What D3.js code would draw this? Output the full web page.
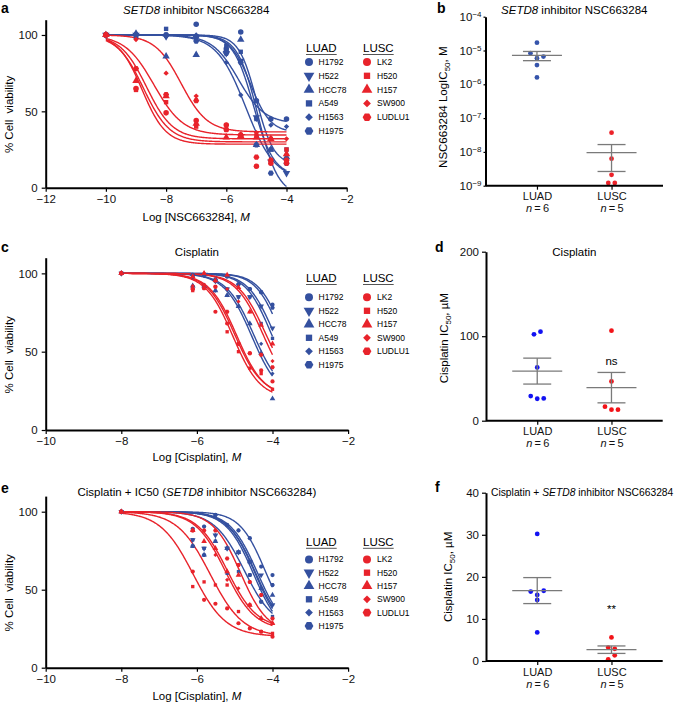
<!DOCTYPE html>
<html>
<head>
<meta charset="utf-8">
<script src="https://cdn.jsdelivr.net/npm/d3@7"></script>
<style>
  body { margin: 0; background: #fff; }
  svg { display: block; font-family: "Liberation Sans", Arial, Helvetica, sans-serif; }
</style>
</head>
<body>
<svg id="chart" width="685" height="702"></svg>
<script>
// cell lines, in legend order
var cellLines = ["H1792", "H522", "HCC78", "A549", "H1563", "H1975", "LK2", "H520", "H157", "SW900", "LUDLU1"];
var subtypes = ["LUAD", "LUAD", "LUAD", "LUAD", "LUAD", "LUAD", "LUSC", "LUSC", "LUSC", "LUSC", "LUSC"];
var markers = ["circle", "triDown", "triUp", "square", "diamond", "hexagon", "circle", "square", "triUp", "diamond", "hexagon"];

// a: NSC663284 alone, log M doses and % viability per cell line
var dosesNSC = [-10, -9, -8, -7, -6, -5.52, -5, -4.52, -4];
var viabilityNSC = [
  [100, 100, 100, 107, 91, 102, 57, 45, 45],
  [100, 100, 99, 98, 88, 83, 46, 17, 9.5],
  [100, 101, 86, 87, 90, 97, 28, 25, 20],
  [100, 99, 104, 99, 93, 89, 45, 25, 25],
  [100, 98, 99, 100, 82, 60.7, 45, 41, 40],
  [100, 100, 100, 96, 88, 82, 28, 9.5, 16],
  [100, 65, 49, 44, 41, 34, 14, 16, 16],
  [100, 64, 56, 40, 38, 34.5, 34, 32, 25],
  [100, 70, 60, 42, 33, 34, 33, 32, 22],
  [100, 97, 75, 60, 41, 35, 36, 32, 32],
  [100, 78, 61, 57, 38, 34.5, 20, 18, 18]
];
var bottomNSC = [42, -5, 8, 15, 36, 5, 28.5, 30, 32, 36.5, 34.5];
var logIC50NSC = [-5.6, -4.95, -5.1, -5.0, -5.2, -5.35, -8.8, -8.75, -8.65, -7.5, -8.4];
var hillNSC = [1.0, 1.3, 1.3, 1.5, 1.3, 0.9, 1.1, 1.0, 1.0, 1.0, 0.9];

// c: cisplatin alone
var dosesCis = [-8, -6.11, -5.81, -5.51, -5.2, -4.9, -4.6, -4.3, -4];
var viabilityCis = [
  [100, 99, 99, 96, 98, 93, 90, 88, 80],
  [100, 98, 99, 95, 90, 85, 85, 79, 65],
  [100, 92, 92, 89, 86, 79, 68, 49, 20],
  [100, 91, 92, 95, 90, 85, 85, 68, 58.5],
  [100, 92, 91, 89, 86, 79, 68, 55, 36],
  [100, 99, 99, 96, 98, 93, 90, 88, 78],
  [100, 90, 92.5, 75.5, 68, 55, 49, 38, 31],
  [100, 89, 90.5, 91.5, 62.7, 50, 39.5, 36, 26],
  [100, 98, 100, 95.6, 99, 91, 75.5, 67, 55],
  [100, 92, 100, 95, 90, 82, 75.5, 48, 44],
  [100, 90, 90.5, 91.5, 75.5, 55, 49, 48, 40]
];
var bottomCis = [35, 28, 20, 25, 22, 32, 20, 22, 25, 22, 21];
var logIC50Cis = [-3.8, -4.0, -4.55, -4.05, -4.5, -3.85, -5.05, -5.0, -4.2, -4.25, -4.95];
var hillCis = [1.4, 1.3, 1.2, 1.3, 1.2, 1.4, 1.2, 1.2, 1.2, 1.2, 1.2];

// e: cisplatin + IC50 of NSC663284
var dosesCombo = [-8, -6.11, -5.81, -5.51, -5.2, -4.9, -4.6, -4.3, -4];
var viabilityCombo = [
  [100, 89, 90.5, 97.9, 91.5, 88, 83, 64.8, 59.4],
  [100, 82, 76.5, 85, 76.5, 74, 68, 59.4, 40.2],
  [100, 78, 72.3, 81, 76.5, 74, 68, 50.9, 46.6],
  [100, 82, 76.5, 81, 60.5, 61.6, 59.4, 42.3, 32.8],
  [100, 89, 90.5, 85, 91.5, 88, 83, 50.9, 40.2],
  [100, 78, 72.3, 97.9, 76.5, 74, 59.4, 42.3, 53],
  [100, 61.6, 43.5, 41, 38, 28.5, 25.2, 23.1, 19.9],
  [100, 52, 55, 53, 53, 36, 40.2, 23.1, 22],
  [100, 88, 81, 76.5, 61.6, 59.4, 40.2, 31.6, 28.5],
  [100, 88, 88, 72.3, 56.3, 50.9, 40.2, 31.6, 28.5],
  [100, 88, 88, 88, 70, 65.8, 55, 46.6, 31.6]
];
var bottomCombo = [25, 20, 22, 25, 20, 22, 20, 20, 24, 25, 22];
var logIC50Combo = [-4.2, -4.45, -4.45, -4.75, -4.5, -4.4, -6.1, -5.65, -5.25, -5.2, -4.85];
var hillCombo = [1.3, 1.2, 1.2, 1.1, 1.2, 1.2, 1.0, 1.0, 1.1, 1.1, 1.2];

// b, d, f: IC50 per cell line
var groups = ["LUAD", "LUSC"];
var ic50NSC_LUAD = [1.7e-5, 8.3e-6, 5.9e-6, 6.6e-6, 3.7e-6, 1.6e-6];
var ic50NSC_LUSC = [3.7e-8, 6.3e-9, 2.1e-9, 1.2e-9, 1.2e-9];
var ic50Cis_LUAD = [102.2, 105.3, 63.1, 29.2, 26.0, 26.4];
var ic50Cis_LUSC = [106.5, 46.5, 16.6, 13.0, 13.0];
var ic50Combo_LUAD = [30.2, 16.5, 15.7, 16.7, 14.5, 6.8];
var ic50Combo_LUSC = [5.6, 3.2, 2.9, 0.4, 1.35];
var sigLabels = ["ns", "**"];
var sigValues = [66, 11.4];

var BLUE = "#34509f", RED = "#e8232b";
var svg = d3.select("#chart");

var hexagon = {
  draw: function(ctx, size) {
    var r = Math.sqrt(size / (1.5 * Math.sqrt(3)));
    for (var i = 0; i < 6; i++) {
      var a = Math.PI / 3 * i;
      if (i === 0) ctx.moveTo(r * Math.cos(a), r * Math.sin(a));
      else ctx.lineTo(r * Math.cos(a), r * Math.sin(a));
    }
    ctx.closePath();
  }
};
var symbolTypes = {
  circle: d3.symbolCircle, triUp: d3.symbolTriangle, triDown: d3.symbolTriangle,
  square: d3.symbolSquare, diamond: d3.symbolSquare, hexagon: hexagon
};
function markerPath(kind, size) {
  var s = kind === "diamond" ? size * 0.6 : kind === "square" ? size * 0.8 : size;
  return d3.symbol().type(symbolTypes[kind]).size(s)();
}
function markerRotate(kind) {
  return kind === "triDown" ? 180 : kind === "diamond" ? 45 : 0;
}

function richText(sel, parts) {
  parts.forEach(function(p) {
    sel.append("tspan").attr("font-style", p.i ? "italic" : null).text(p.t);
  });
  return sel;
}

function styleAxis(a, size) {
  a.attr("font-family", null).attr("font-size", size || 11.5);
  a.select(".domain").attr("stroke-width", 2);
  a.selectAll(".tick line").attr("stroke-width", 1.2);
  a.selectAll(".tick text").attr("fill", "#111");
}

function panelLabel(t, x, y) {
  svg.append("text").attr("x", x).attr("y", y).attr("font-size", 14)
    .attr("font-weight", "bold").text(t);
}

function drawDoseResponse(o) {
  var g = svg.append("g").attr("transform", "translate(" + o.left + "," + o.top + ")");
  var x = d3.scaleLinear().domain(o.xDomain).range([0, o.width]);
  var y = d3.scaleLinear().domain([0, 110]).range([o.height, 0]);
  var line = d3.line().x(function(d) { return x(d[0]); }).y(function(d) { return y(d[1]); });
  var xs = d3.range(o.fitFrom, o.fitTo + 1e-9, 0.02);

  cellLines.forEach(function(name, i) {
    var pts = xs.map(function(lx) {
      return [lx, o.bottom[i] + (100 - o.bottom[i]) / (1 + Math.pow(10, (lx - o.logIC50[i]) * o.hill[i]))];
    });
    g.append("path").attr("d", line(pts)).attr("fill", "none")
      .attr("stroke", subtypes[i] === "LUAD" ? BLUE : RED).attr("stroke-width", 1.4);
  });

  cellLines.forEach(function(name, i) {
    var col = subtypes[i] === "LUAD" ? BLUE : RED;
    g.selectAll(null).data(o.viability[i]).enter().append("path")
      .attr("d", markerPath(markers[i], o.markerSize))
      .attr("transform", function(v, j) {
        return "translate(" + x(o.doses[j]) + "," + y(v) + ") rotate(" + markerRotate(markers[i]) + ")";
      })
      .attr("fill", col);
  });

  var ax = g.append("g").attr("transform", "translate(0," + o.height + ")")
    .call(d3.axisBottom(x).tickValues(o.xTicks).tickSize(4).tickSizeOuter(0).tickPadding(3));
  var ay = g.append("g")
    .call(d3.axisLeft(y).tickValues([0, 50, 100]).tickSize(4).tickSizeOuter(0).tickPadding(4));
  styleAxis(ax); styleAxis(ay);

  richText(g.append("text").attr("x", o.width / 2).attr("y", o.titleY)
    .attr("text-anchor", "middle").attr("font-size", 11.5), o.title);
  richText(g.append("text").attr("x", o.width / 2).attr("y", o.height + o.xLabelDy)
    .attr("text-anchor", "middle").attr("font-size", 11.5), o.xLabel);
  g.append("text").attr("transform", "translate(-33," + y(48) + ") rotate(-90)")
    .attr("text-anchor", "middle").attr("font-size", 11.5).attr("xml:space", "preserve")
    .text("% Cell  viability");

  // legend
  var lg = svg.append("g");
  [["LUAD", 306, 309, 318.5], ["LUSC", 363, 367, 377]].forEach(function(h) {
    var t = lg.append("text").attr("x", h[1]).attr("y", o.legendTop).attr("font-size", 11.5).text(h[0]);
    var w = t.node().getComputedTextLength();
    lg.append("line").attr("x1", h[1]).attr("x2", h[1] + w)
      .attr("y1", o.legendTop + 2.5).attr("y2", o.legendTop + 2.5)
      .attr("stroke", "#555").attr("stroke-width", 1);
    var idx = cellLines.map(function(d, i) { return i; }).filter(function(i) { return subtypes[i] === h[0]; });
    idx.forEach(function(i, k) {
      var cy = o.legendTop + o.legendFirst + k * o.legendStep;
      lg.append("path").attr("d", markerPath(markers[i], 50))
        .attr("transform", "translate(" + h[2] + "," + cy + ") rotate(" + markerRotate(markers[i]) + ")")
        .attr("fill", h[0] === "LUAD" ? BLUE : RED);
      lg.append("text").attr("x", h[3]).attr("y", cy + 3).attr("font-size", 8.5).text(cellLines[i]);
    });
  });
}

function dodge(values, y) {
  var rows = [];
  values.forEach(function(v, i) {
    var py = y(v);
    var row = rows.find(function(r) { return Math.abs(r.py - py) < 5.5; });
    if (row) row.items.push(i); else rows.push({ py: py, items: [i] });
  });
  var dx = [];
  rows.forEach(function(r) {
    r.items.forEach(function(idx, k) { dx[idx] = (k - (r.items.length - 1) / 2) * 6.5; });
  });
  return dx;
}

function drawScatter(o) {
  var g = svg.append("g").attr("transform", "translate(" + o.left + "," + o.top + ")");
  var y = (o.log ? d3.scaleLog() : d3.scaleLinear()).domain(o.yDomain).range([o.height, 0]);
  var x = d3.scalePoint().domain(groups).range([0, o.width]).padding(0.69);
  var sets = [[o.luad, o.blue], [o.lusc, o.red]];

  sets.forEach(function(s, gi) {
    var vals = s[0], cx = x(groups[gi]);
    var dx = dodge(vals, y);
    g.selectAll(null).data(vals).enter().append("circle")
      .attr("cx", function(d, i) { return cx + dx[i]; })
      .attr("cy", function(d) { return y(d); })
      .attr("r", 2.4).attr("fill", s[1]);
    var m = d3.mean(vals), se = d3.deviation(vals) / Math.sqrt(vals.length);
    var st = { stroke: "#7a7a7a", w: 1.3 };
    g.append("line").attr("x1", cx - 25).attr("x2", cx + 25).attr("y1", y(m)).attr("y2", y(m))
      .attr("stroke", st.stroke).attr("stroke-width", st.w);
    [m + se, m - se].forEach(function(v) {
      g.append("line").attr("x1", cx - 14).attr("x2", cx + 14).attr("y1", y(v)).attr("y2", y(v))
        .attr("stroke", st.stroke).attr("stroke-width", st.w);
    });
    g.append("line").attr("x1", cx).attr("x2", cx).attr("y1", y(m + se)).attr("y2", y(m - se))
      .attr("stroke", st.stroke).attr("stroke-width", st.w);
  });

  var ax = g.append("g").attr("transform", "translate(0," + o.height + ")")
    .call(d3.axisBottom(x).tickSize(4).tickSizeOuter(0).tickPadding(3));
  styleAxis(ax, 11);
  ax.selectAll(".tick").each(function(d, i) {
    var n = (i === 0 ? o.luad : o.lusc).length;
    richText(d3.select(this).append("text").attr("y", 26.5).attr("fill", "#111"),
      [{ t: "n", i: true }, { t: "\u2009=\u2009" + n }]);
  });
  ax.select(".domain").attr("d", "M0,0H" + o.width);

  var ay = g.append("g").call(d3.axisLeft(y).tickValues(o.yTicks).tickSize(o.log ? 2 : 4)
    .tickSizeOuter(0).tickPadding(o.log ? 2 : 3).tickFormat(o.log ? null : d3.format("d")));
  styleAxis(ay, 11.5);
  if (o.log) {
    ay.selectAll(".tick text").each(function(d) {
      var t = d3.select(this).text("");
      t.append("tspan").text("10");
      t.append("tspan").attr("dy", "-0.5em").attr("font-size", 8)
        .text("\u2212" + Math.round(-Math.log10(d)));
    });
  }

  var title = g.append("text").attr("y", o.titleY).attr("font-size", o.titleSize || 11.5);
  if (o.titleAnchor === "start") title.attr("x", o.titleX); else title.attr("x", o.width / 2).attr("text-anchor", "middle");
  richText(title, o.title);

  var yl = g.append("text").attr("transform", "translate(" + o.yLabelX + "," + (o.height / 2 + o.yLabelDy) + ") rotate(-90)")
    .attr("text-anchor", "middle").attr("font-size", 11.5);
  yl.append("tspan").text(o.yLabel[0]);
  yl.append("tspan").attr("dy", 3).attr("font-size", 8).text("50");
  yl.append("tspan").attr("dy", -3).text(o.yLabel[1]);

  if (o.sig) {
    g.append("text").attr("x", x("LUSC")).attr("y", y(o.sig[1])).attr("text-anchor", "middle")
      .attr("font-size", 11.5).text(o.sig[0]);
  }
}

// ---- a ----
drawDoseResponse({
  left: 45.7, top: 19.7, width: 301, height: 168,
  xDomain: [-12, -2], xTicks: [-12, -10, -8, -6, -4, -2], fitFrom: -10, fitTo: -4,
  doses: dosesNSC, viability: viabilityNSC, bottom: bottomNSC, logIC50: logIC50NSC, hill: hillNSC,
  markerSize: 24, titleY: -5.5,
  title: [{ t: "SETD8", i: true }, { t: " inhibitor NSC663284" }],
  xLabel: [{ t: "Log [NSC663284], " }, { t: "M", i: true }], xLabelDy: 33.5,
  legendTop: 52, legendFirst: 10, legendStep: 13.8
});
// ---- c ----
drawDoseResponse({
  left: 45.7, top: 257.7, width: 302.4, height: 172.3,
  xDomain: [-10, -2], xTicks: [-10, -8, -6, -4, -2], fitFrom: -8, fitTo: -4,
  doses: dosesCis, viability: viabilityCis, bottom: bottomCis, logIC50: logIC50Cis, hill: hillCis,
  markerSize: 14, titleY: -2,
  title: [{ t: "Cisplatin" }],
  xLabel: [{ t: "Log [Cisplatin], " }, { t: "M", i: true }], xLabelDy: 30.7,
  legendTop: 282, legendFirst: 15.3, legendStep: 13.5
});
// ---- e ----
drawDoseResponse({
  left: 45.7, top: 496.1, width: 302.4, height: 171.6,
  xDomain: [-10, -2], xTicks: [-10, -8, -6, -4, -2], fitFrom: -8, fitTo: -4,
  doses: dosesCombo, viability: viabilityCombo, bottom: bottomCombo, logIC50: logIC50Combo, hill: hillCombo,
  markerSize: 14, titleY: -0.5,
  title: [{ t: "Cisplatin + IC50 (" }, { t: "SETD8", i: true }, { t: " inhibitor NSC663284)" }],
  xLabel: [{ t: "Log [Cisplatin], " }, { t: "M", i: true }], xLabelDy: 32.4,
  legendTop: 545.8, legendFirst: 13.6, legendStep: 13.3
});

// ---- b ----
drawScatter({
  left: 485.5, top: 16.7, width: 177.5, height: 169, log: true,
  yDomain: [1e-9, 1e-4], yTicks: [1e-9, 1e-8, 1e-7, 1e-6, 1e-5, 1e-4],
  luad: ic50NSC_LUAD, lusc: ic50NSC_LUSC, blue: "#3554ab", red: "#ec2229",
  title: [{ t: "SETD8", i: true }, { t: " inhibitor NSC663284" }], titleY: -3,
  yLabel: ["NSC663284 LogIC", ", M"], yLabelX: -38.5, yLabelDy: 6
});
// ---- d ----
drawScatter({
  left: 486, top: 251.7, width: 176.7, height: 169,
  yDomain: [0, 200], yTicks: [0, 100, 200],
  luad: ic50Cis_LUAD, lusc: ic50Cis_LUSC, blue: "#1212f2", red: "#f21318",
  title: [{ t: "Cisplatin" }], titleY: 4.3,
  yLabel: ["Cisplatin IC", ", \u00b5M"], yLabelX: -38, yLabelDy: 2,
  sig: [sigLabels[0], sigValues[0]]
});
// ---- f ----
drawScatter({
  left: 486, top: 492.7, width: 176.7, height: 168.3,
  yDomain: [0, 40], yTicks: [0, 10, 20, 30, 40],
  luad: ic50Combo_LUAD, lusc: ic50Combo_LUSC, blue: "#1212f2", red: "#f21318",
  title: [{ t: "Cisplatin + " }, { t: "SETD8", i: true }, { t: " inhibitor NSC663284" }],
  titleY: 3, titleAnchor: "start", titleX: 5, titleSize: 10.3,
  yLabel: ["Cisplatin IC", ", \u00b5M"], yLabelX: -34.5, yLabelDy: 0,
  sig: [sigLabels[1], sigValues[1]]
});

panelLabel("a", 1, 13);
panelLabel("b", 437, 13);
panelLabel("c", 1, 252);
panelLabel("d", 435, 252);
panelLabel("e", 1, 493);
panelLabel("f", 435, 492);
</script>
</body>
</html>
